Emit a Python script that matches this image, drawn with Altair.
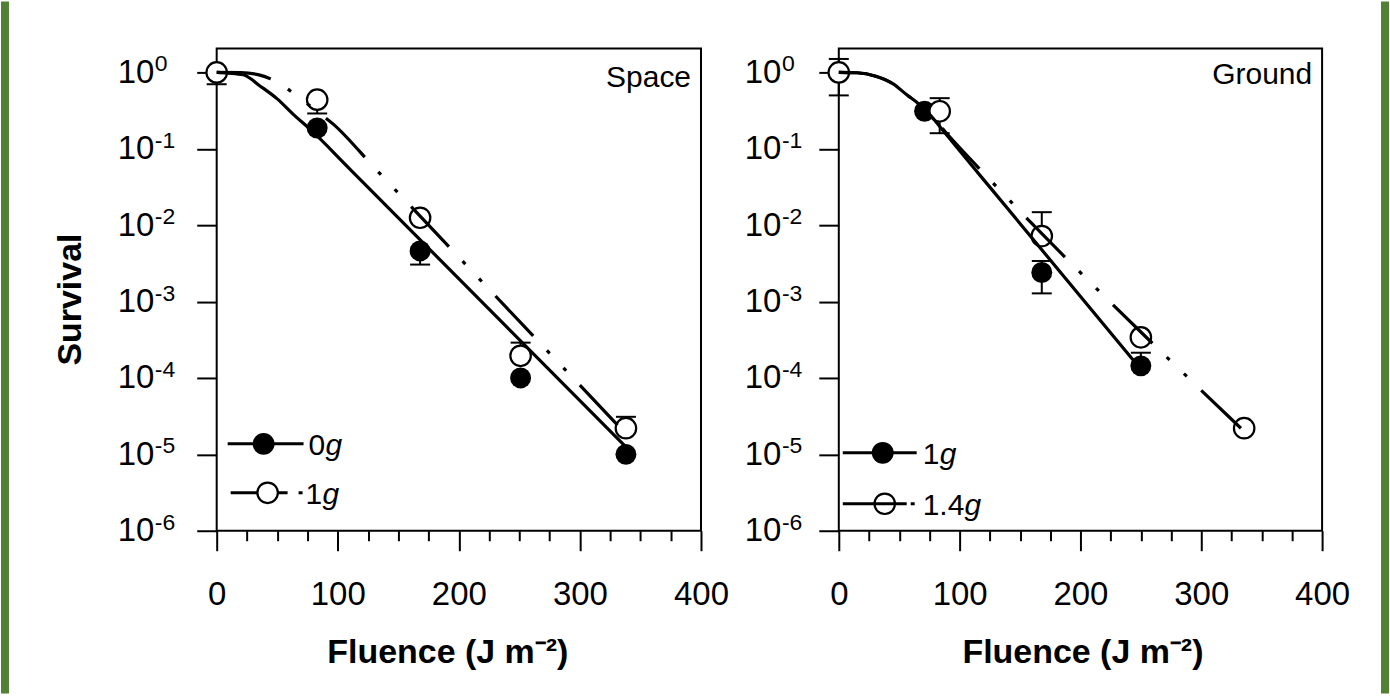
import altair as alt
import pandas as pd

FONT = "Liberation Sans, Arial, Helvetica, sans-serif"
GREEN = "#528034"

# ---------------- Space panel ----------------
space_0g_f = [0, 83, 168, 251, 338]
space_0g_s = [1.0, 0.187, 4.6e-3, 1.0e-4, 1.0e-5]
space_1g_f = [0, 83, 168, 251, 338]
space_1g_s = [1.0, 0.44, 0.0125, 1.95e-4, 2.2e-5]

space_0g_err_f = [168]
space_0g_err_lo = [3.05e-3]
space_0g_err_hi = [4.6e-3]
space_1g_err_f = [0, 83, 251, 338]
space_1g_err_lo = [0.70, 0.29, 1.95e-4, 2.2e-5]
space_1g_err_hi = [1.0, 0.44, 2.9e-4, 3.1e-5]

space_0g_fit_f = [0, 10, 22, 36, 50, 63.5, 77.5, 110, 341]
space_0g_fit_s = [1.0, 0.98, 0.93, 0.66, 0.45, 0.28, 0.178, 0.0543, 1.12e-5]
space_1g_fit_f = [0, 20, 35, 44.5, 57, 69, 82, 96.5, 130, 336]
space_1g_fit_s = [1.0, 0.995, 0.927, 0.822, 0.631, 0.457, 0.316, 0.209, 0.0571, 2.0e-5]

# ---------------- Ground panel ----------------
ground_1g_f = [0, 71, 168, 250]
ground_1g_s = [1.0, 0.31, 2.4e-3, 1.44e-4]
ground_14g_f = [0, 83.5, 168, 250, 335.5]
ground_14g_s = [1.0, 0.31, 7.2e-3, 3.4e-4, 2.2e-5]

ground_1g_err_f = [168, 250]
ground_1g_err_lo = [1.28e-3, 1.44e-4]
ground_1g_err_hi = [3.4e-3, 2.14e-4]
ground_14g_err_f = [0, 83.5, 168]
ground_14g_err_lo = [0.5, 0.16, 7.2e-3]
ground_14g_err_hi = [1.5, 0.46, 0.0148]

ground_1g_fit_f = [0, 15, 30.6, 45, 56, 66, 74, 88.8, 120, 246]
ground_1g_fit_s = [1.0, 0.989, 0.891, 0.708, 0.513, 0.389, 0.295, 0.155, 0.0392, 1.55e-4]
ground_14g_fit_f = [0, 15, 30.6, 45, 56, 66, 74, 88.8, 124.8, 337]
ground_14g_fit_s = [1.0, 0.989, 0.891, 0.708, 0.513, 0.389, 0.302, 0.162, 0.0398, 1.9e-5]

# ---------------- axes ----------------
x_ticks = list(range(0, 401, 25))
y_tick_values = [1.0, 1e-1, 1e-2, 1e-3, 1e-4, 1e-5, 1e-6]
y_tick_exponents = ["0", "-1", "-2", "-3", "-4", "-5", "-6"]

x_scale = alt.Scale(domain=[0, 400], nice=False, zero=False)
y_scale = alt.Scale(type="log", domain=[1e-6, 2.06], nice=False)

DASH_DOT_DOT = [55, 20, 4, 20, 4, 20]


def x_axis(title_x):
    return alt.Axis(
        values=x_ticks,
        labelExpr="datum.value % 100 === 0 ? datum.label : ''",
        tickSize={"condition": {"test": "datum.value % 100 === 0", "value": 20}, "value": 10},
        tickWidth=2, tickColor="black", domain=False, grid=False,
        labelFont=FONT, labelFontSize=33, labelColor="black", labelPadding=28,
        labelFlush=False, labelOverlap=False,
        title="Fluence (J m⁻²)", titleFont=FONT, titleFontSize=34,
        titleFontWeight="bold", titleColor="black", titlePadding=24, titleX=title_x,
    )


def y_axis(title, label_pad):
    kw = dict(
        values=y_tick_values, labelExpr="'10'",
        tickSize=20, tickWidth=2, tickColor="black", domain=False, grid=False,
        labelFont=FONT, labelFontSize=33, labelColor="black", labelPadding=label_pad,
        labelFlush=False, labelOverlap=False,
    )
    if title:
        kw.update(title=title, titleFont=FONT, titleFontSize=34, titleFontWeight="bold",
                  titleColor="black", titlePadding=30, titleY=251)
    else:
        kw.update(title=None)
    return alt.Axis(**kw)


def points_df(f, s):
    return pd.DataFrame({"f": f, "s": s})


def panel(name, name_y, width, y_title, label_pad, exp_x, title_x,
          filled, opened, err_filled, err_open, fit_solid, fit_dash,
          legend_layers, border_layers):
    xa = x_axis(title_x)
    ya = y_axis(y_title, label_pad)

    def X(field="f"):
        return alt.X(f"{field}:Q", scale=x_scale, axis=xa)

    def Y(field="s"):
        return alt.Y(f"{field}:Q", scale=y_scale, axis=ya)

    errs = []
    for ef, lo, hi in (err_filled, err_open):
        errs.append(pd.DataFrame({"f": ef, "lo": lo, "hi": hi}))
    err_df = pd.concat(errs, ignore_index=True)
    caps_df = pd.concat([
        pd.DataFrame({"f": err_df["f"], "s": err_df["lo"]}),
        pd.DataFrame({"f": err_df["f"], "s": err_df["hi"]}),
    ], ignore_index=True)

    bars = alt.Chart(err_df).mark_rule(color="black", strokeWidth=2).encode(
        x=X(), y=Y("lo"), y2="hi:Q")
    caps = alt.Chart(caps_df).mark_tick(
        orient="horizontal", size=20, thickness=2, color="black", opacity=1
    ).encode(x=X(), y=Y())

    dots_filled = alt.Chart(points_df(*filled)).mark_circle(
        size=440, color="black", opacity=1).encode(x=X(), y=Y())
    dots_open = alt.Chart(points_df(*opened)).mark_circle(
        size=420, fill="white", stroke="black", strokeWidth=2.2, opacity=1,
        fillOpacity=1).encode(x=X(), y=Y())

    line_solid = alt.Chart(points_df(*fit_solid)).mark_line(
        color="black", strokeWidth=3.2, interpolate="monotone").encode(x=X(), y=Y())
    line_dash = alt.Chart(points_df(*fit_dash)).mark_line(
        color="black", strokeWidth=3.2, interpolate="monotone",
        strokeDash=DASH_DOT_DOT).encode(x=X(), y=Y())

    exps = alt.Chart(pd.DataFrame({"s": y_tick_values, "e": y_tick_exponents})).mark_text(
        align="left", baseline="middle", dy=-8, fontSize=23, font=FONT, color="black"
    ).encode(x=alt.value(exp_x), y=Y(), text="e:N")

    tag = alt.Chart(pd.DataFrame({"t": [name]})).mark_text(
        align="right", baseline="middle", fontSize=30, font=FONT, color="black"
    ).encode(x=alt.value(width - 10), y=alt.value(name_y), text="t:N")

    return alt.layer(
        bars, caps, dots_filled, dots_open, line_solid, line_dash,
        exps, tag, *legend_layers, *border_layers
    ).properties(width=width, height=483)


one = pd.DataFrame({"k": [0]})


def lg_rule(x1, x2, y):
    return alt.Chart(one).mark_rule(color="black", strokeWidth=3).encode(
        x=alt.value(x1), x2=alt.value(x2), y=alt.value(y))


def lg_dot(x, y, filled):
    if filled:
        m = alt.Chart(one).mark_circle(size=480, color="black", opacity=1)
    else:
        m = alt.Chart(one).mark_circle(size=420, fill="white", stroke="black",
                                       strokeWidth=2.2, opacity=1, fillOpacity=1)
    return m.encode(x=alt.value(x), y=alt.value(y))


def lg_text(x, y, txt, italic=False):
    return alt.Chart(pd.DataFrame({"t": [txt]})).mark_text(
        align="left", baseline="middle", fontSize=30, font=FONT, color="black",
        fontStyle="italic" if italic else "normal"
    ).encode(x=alt.value(x), y=alt.value(y), text="t:N")


def band(x1, x2, y1, y2):
    # vertical strip of the page frame
    return alt.Chart(one).mark_rect(color=GREEN, opacity=1).encode(
        x=alt.value(x1), x2=alt.value(x2), y=alt.value(y1), y2=alt.value(y2))


space_legend = [
    lg_rule(11, 87, 396), lg_dot(47, 396, True),
    lg_text(92, 398, "0"), lg_text(109, 398, "g", italic=True),
    lg_rule(14, 71, 445), lg_dot(51, 445, False), lg_rule(82, 86, 445),
    lg_text(89, 447, "1"), lg_text(106, 447, "g", italic=True),
]
ground_legend = [
    lg_rule(4, 78, 405), lg_dot(44, 405, True),
    lg_text(84, 407, "1"), lg_text(101, 407, "g", italic=True),
    lg_dot(46, 456, False), lg_rule(4, 68, 456), lg_rule(72, 76, 456),
    lg_text(84, 458, "1.4"), lg_text(126, 458, "g", italic=True),
]

space_border = [band(-216, -208, -47, 646)]
ground_border = [band(543, 551, -47, 646)]

left = panel(
    "Space", 30, 485, "Survival", 43, -62, 231,
    (space_0g_f, space_0g_s), (space_1g_f, space_1g_s),
    (space_0g_err_f, space_0g_err_lo, space_0g_err_hi),
    (space_1g_err_f, space_1g_err_lo, space_1g_err_hi),
    (space_0g_fit_f, space_0g_fit_s), (space_1g_fit_f, space_1g_fit_s),
    space_legend, space_border,
)
right = panel(
    "Ground", 27, 484, None, 38, -57, 244,
    (ground_1g_f, ground_1g_s), (ground_14g_f, ground_14g_s),
    (ground_1g_err_f, ground_1g_err_lo, ground_1g_err_hi),
    (ground_14g_err_f, ground_14g_err_lo, ground_14g_err_hi),
    (ground_1g_fit_f, ground_1g_fit_s), (ground_14g_fit_f, ground_14g_fit_s),
    ground_legend, ground_border,
)

chart = alt.hconcat(left, right, spacing=138, bounds="flush").properties(
    padding=0, background="white"
).configure_view(stroke="black", strokeWidth=2)

chart.save("out.html", embed_options={"renderer": "svg", "actions": False})
